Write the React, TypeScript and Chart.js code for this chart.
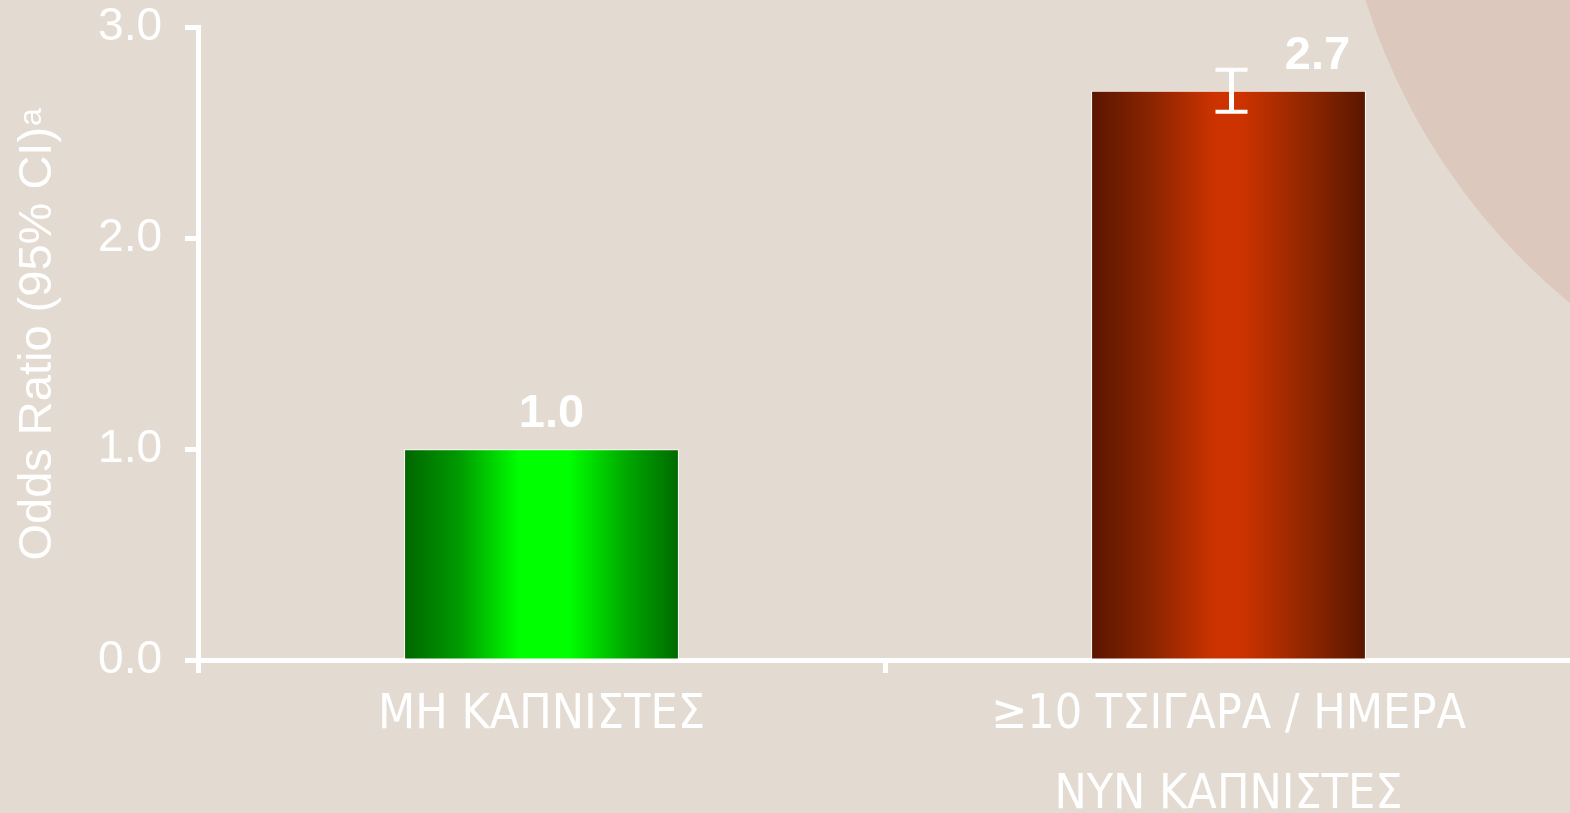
import React, { useEffect, useRef } from 'react';
import { Chart, registerables } from 'chart.js';

Chart.register(...registerables);

// ---- data ----
const categories: (string | string[])[] = [
  'ΜΗ ΚΑΠΝΙΣΤΕΣ',
  ['≥10 ΤΣΙΓΑΡΑ / ΗΜΕΡΑ', 'ΝΥΝ ΚΑΠΝΙΣΤΕΣ'],
];
const oddsRatios = [1.0, 2.7];
const ciLow: (number | null)[] = [null, 2.6];
const ciHigh: (number | null)[] = [null, 2.8];
const valueLabels = ['1.0', '2.7'];
const yTickValues = [0, 1, 2, 3];
const yTitle = 'Odds Ratio (95% CI)';
const yTitleSup = 'a';

// ---- styles ----
const BG = '#E3DBD1';
const CIRCLE = '#DDC8BD';
const WHITE = '#ffffff';
const SANS = '"Liberation Sans", Arial, Helvetica, sans-serif';
const COND = '"DejaVu Sans Condensed", "DejaVu Sans", sans-serif';
const gradientStops: [number, string][][] = [
  [
    [0, '#006600'],
    [0.2, '#009a00'],
    [0.42, '#00ff00'],
    [0.6, '#00ff00'],
    [0.82, '#00a400'],
    [1, '#006a00'],
  ],
  [
    [0, '#5a1600'],
    [0.2, '#862300'],
    [0.45, '#cc3300'],
    [0.55, '#cc3300'],
    [0.8, '#8c2500'],
    [1, '#5a1600'],
  ],
];
const fallbackColors = ['#00cc00', '#aa2a00'];
const labelDx = [10, 89];
const labelDy = -22;
const TITLE_SIZE = 47;
const TITLE_PAD = 10;
const AREA_TOP = 27.5;
const AREA_RIGHT_OVERHANG = 2;

function barGradient(ctx: any) {
  const chart = ctx.chart;
  const i = ctx.dataIndex ?? 0;
  const xs = chart.scales?.x;
  if (!xs || !chart.chartArea) return fallbackColors[i] ?? fallbackColors[0];
  const cx = xs.getPixelForValue(i);
  const half = (xs.width / categories.length) * 0.4 / 2;
  if (!isFinite(cx) || !isFinite(half) || half <= 0) return fallbackColors[i] ?? fallbackColors[0];
  const g = chart.ctx.createLinearGradient(cx - half, 0, cx + half, 0);
  for (const [o, c] of gradientStops[i]) g.addColorStop(o, c);
  return g;
}

const overlayPlugin = {
  id: 'overlay',
  afterLayout(chart: any) {
    const xs = chart.scales.x;
    const right = chart.width + AREA_RIGHT_OVERHANG;
    xs.right = right;
    xs.width = right - xs.left;
    chart.chartArea.right = right;
    chart.chartArea.width = right - chart.chartArea.left;
    xs.configure();
  },
  beforeDraw(chart: any) {
    const { ctx, width, height } = chart;
    ctx.save();
    ctx.fillStyle = BG;
    ctx.fillRect(0, 0, width, height);
    ctx.fillStyle = CIRCLE;
    ctx.beginPath();
    ctx.arc(1977, -192, 641, 0, Math.PI * 2);
    ctx.fill();
    ctx.restore();
  },
  afterDatasetsDraw(chart: any) {
    const { ctx } = chart;
    const ys = chart.scales.y;
    const meta = chart.getDatasetMeta(0);
    ctx.save();
    meta.data.forEach((bar: any, i: number) => {
      const lo = ciLow[i];
      const hi = ciHigh[i];
      if (lo !== null && hi !== null) {
        const x = bar.x + 3;
        const yHi = ys.getPixelForValue(hi);
        const yLo = ys.getPixelForValue(lo);
        ctx.strokeStyle = WHITE;
        ctx.lineWidth = 5;
        ctx.beginPath();
        ctx.moveTo(x, yHi);
        ctx.lineTo(x, yLo);
        ctx.stroke();
        ctx.lineWidth = 4;
        ctx.beginPath();
        ctx.moveTo(x - 16, yHi);
        ctx.lineTo(x + 16, yHi);
        ctx.moveTo(x - 16, yLo);
        ctx.lineTo(x + 16, yLo);
        ctx.stroke();
      }
      ctx.fillStyle = WHITE;
      ctx.font = `bold 47px ${SANS}`;
      ctx.textAlign = 'center';
      ctx.textBaseline = 'alphabetic';
      ctx.fillText(valueLabels[i], bar.x + labelDx[i], bar.y + labelDy);
    });
    ctx.restore();
  },
  afterDraw(chart: any) {
    const { ctx } = chart;
    const ys = chart.scales.y;
    const titleX = ys.left + (TITLE_SIZE * 1.2) / 2 + TITLE_PAD;
    const titleY = (ys.top + ys.bottom) / 2;
    ctx.save();
    ctx.font = `${TITLE_SIZE}px ${SANS}`;
    const w = ctx.measureText(yTitle).width;
    ctx.translate(titleX, titleY);
    ctx.rotate(-Math.PI / 2);
    ctx.font = `32px ${SANS}`;
    ctx.fillStyle = WHITE;
    ctx.textAlign = 'left';
    ctx.textBaseline = 'alphabetic';
    ctx.fillText(yTitleSup, w / 2 + 1, 3);
    ctx.restore();
  },
};

export default function App() {
  const canvasRef = useRef<HTMLCanvasElement | null>(null);

  useEffect(() => {
    document.body.style.margin = '0';
    document.body.style.overflow = 'hidden';
    const canvas = canvasRef.current;
    if (!canvas) return;
    const chart = new Chart(canvas, {
      type: 'bar',
      data: {
        labels: categories as any,
        datasets: [
          {
            data: oddsRatios,
            backgroundColor: barGradient as any,
            borderColor: 'rgba(255,255,255,0.95)',
            borderWidth: 1,
            borderSkipped: false,
            categoryPercentage: 1,
            barPercentage: 0.4,
          },
        ],
      },
      options: {
        animation: false,
        responsive: true,
        maintainAspectRatio: false,
        layout: { padding: 0 },
        plugins: {
          legend: { display: false },
          tooltip: { enabled: false },
        },
        scales: {
          x: {
            offset: true,
            grid: {
              offset: true,
              drawOnChartArea: false,
              drawTicks: true,
              tickLength: 13,
              tickWidth: 5,
              color: WHITE,
            },
            border: { display: true, color: WHITE, width: 5 },
            ticks: {
              color: WHITE,
              autoSkip: false,
              maxRotation: 0,
              minRotation: 0,
              padding: 3,
              font: { family: COND, size: 48, lineHeight: 80 / 48 },
            },
            afterFit: (scale: any) => {
              scale.height = 153;
              scale.paddingLeft = 0;
              scale.paddingRight = 0;
            },
          },
          y: {
            min: 0,
            max: 3,
            afterBuildTicks: (scale: any) => {
              scale.ticks = yTickValues.map((v) => ({ value: v }));
            },
            grid: {
              drawOnChartArea: false,
              drawTicks: true,
              tickLength: 13,
              tickWidth: 5,
              color: WHITE,
            },
            border: { display: true, color: WHITE, width: 5 },
            ticks: {
              color: WHITE,
              padding: 23,
              font: { family: SANS, size: 46 },
              callback: (v: any) => Number(v).toFixed(1),
            },
            title: {
              display: true,
              text: yTitle,
              color: WHITE,
              font: { family: SANS, size: TITLE_SIZE },
              padding: { top: TITLE_PAD, bottom: 0 },
            },
            afterFit: (scale: any) => {
              scale.width = 198;
              scale.paddingTop = AREA_TOP;
              scale.paddingBottom = 0;
            },
          },
        },
      },
      plugins: [overlayPlugin],
    });
    return () => chart.destroy();
  }, []);

  return (
    <div style={{ position: 'relative', width: 1570, height: 813 }}>
      <canvas ref={canvasRef} />
    </div>
  );
}
